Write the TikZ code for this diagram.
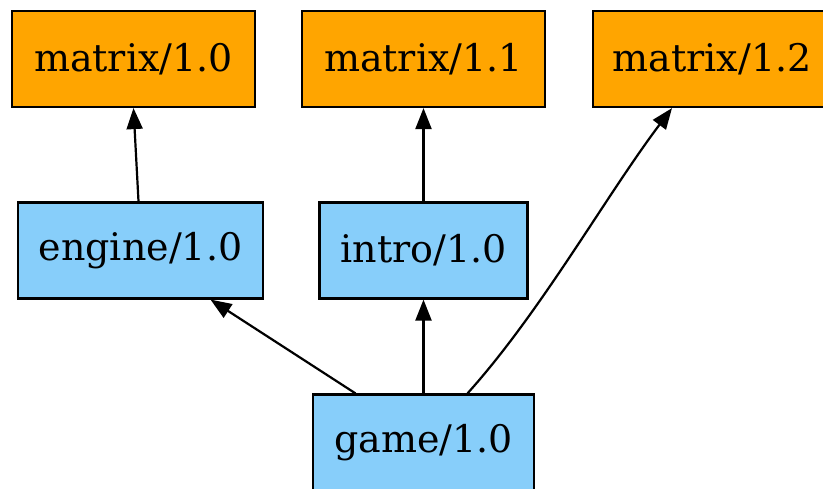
\documentclass[tikz,border=0pt]{standalone}
\usepackage{fontspec}
\setmainfont{DejaVu Serif}
\usetikzlibrary{arrows.meta}
\definecolor{pkgorange}{HTML}{FFA500}
\definecolor{pkgblue}{HTML}{87CEFA}
\tikzset{
    pkg/.style={draw, line width=2.2pt, minimum height=96pt, inner sep=0pt,
        font=\fontsize{38}{45}\selectfont},
    lib/.style={pkg, fill=pkgorange},
    app/.style={pkg, fill=pkgblue},
    dep/.style={line width=2.2pt, -{Triangle[length=21pt,width=16pt]}}
}
\begin{document}
\begin{tikzpicture}[x=1pt,y=-1pt]
    \useasboundingbox (0,0) rectangle (823,489);

    % libraries
    \node[lib, minimum width=243pt] (m10) at (133.5,59) {matrix/1.0};
    \node[lib, minimum width=243pt] (m11) at (423.5,59) {matrix/1.1};
    \node[lib, minimum width=238pt] (m12) at (712,59) {matrix/1.2};

    % middle row
    \node[app, minimum width=245pt] (engine) at (140.5,250.5) {engine/1.0};
    \node[app, minimum width=208pt] (intro) at (423.5,250.5) {intro/1.0};

    % root
    \node[app, minimum width=221pt] (game) at (423.5,442.5) {game/1.0};

    % dependencies
    \draw[dep] ([xshift=-2pt]engine.north) -- (m10.south);
    \draw[dep] (intro.north) -- (m11.south);
    \draw[dep] ([xshift=-68pt]game.north) -- ([xshift=70pt]engine.south);
    \draw[dep] (game.north) -- (intro.south);
    \draw[dep] ([xshift=44pt]game.north) to[out=48, in=233, looseness=0.8] ([xshift=-40pt]m12.south);
\end{tikzpicture}
\end{document}
